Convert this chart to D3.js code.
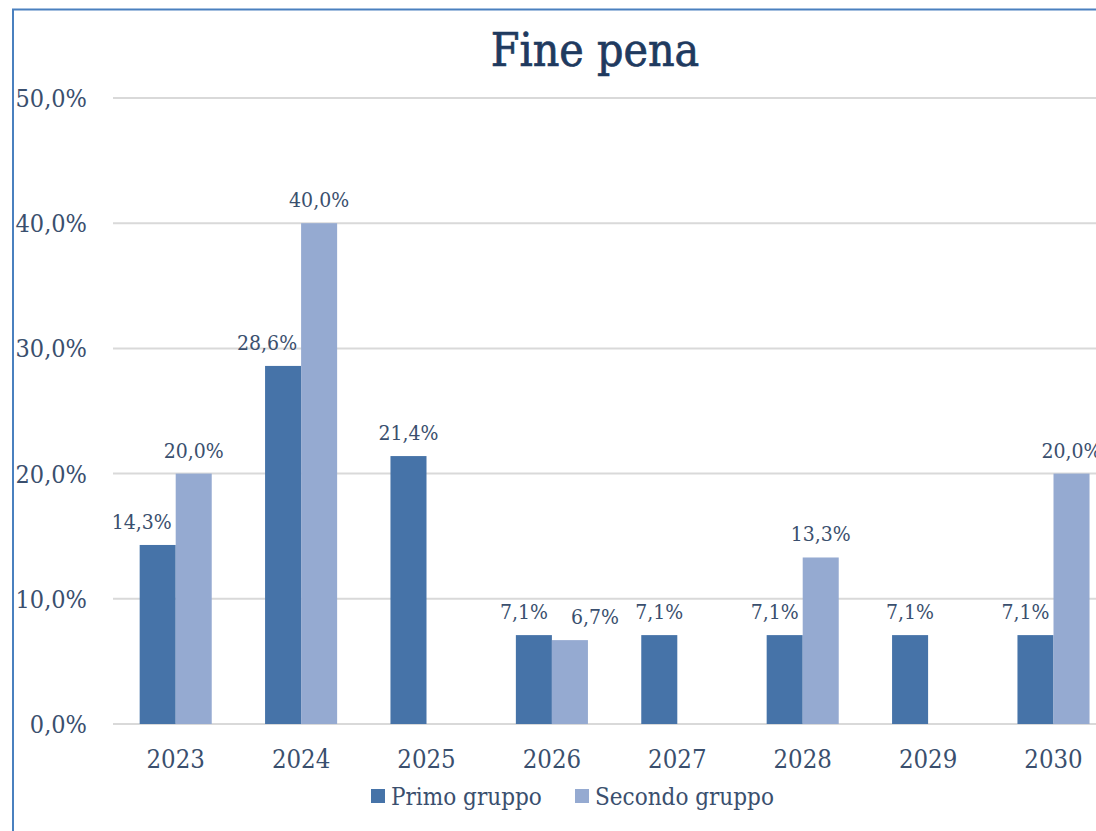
<!DOCTYPE html>
<html>
<head>
<meta charset="utf-8">
<script src="https://cdn.jsdelivr.net/npm/d3@7"></script>
<style>
  body { margin: 0; background: #fff; }
  svg { display: block; }
</style>
</head>
<body>
<script>
// data
var anni = ["2023", "2024", "2025", "2026", "2027", "2028", "2029", "2030"];
var primo = [14.3, 28.6, 21.4, 7.1, 7.1, 7.1, 7.1, 7.1];
var secondo = [20.0, 40.0, 0, 6.7, 0, 13.3, 0, 20.0];
var serie = ["Primo gruppo", "Secondo gruppo"];
var yTicks = [0, 10, 20, 30, 40, 50];

var colori = ["#4673a8", "#95aad1"];
var textCol = "#3a4f6e";
var font = "'DejaVu Serif Condensed', 'DejaVu Serif', serif";

var W = 1096, H = 831;
var plot = { left: 113, top: 98, bottom: 724, step: 125.4 };

var svg = d3.select("body").append("svg").attr("width", W).attr("height", H);

// chart border (cut at the right edge)
svg.append("path")
   .attr("d", "M13,831 L13,9.5 L1096,9.5")
   .attr("fill", "none").attr("stroke", "#4a80bf").attr("stroke-width", 2);

var x = d3.scaleBand().domain(anni)
          .range([plot.left, plot.left + plot.step * anni.length]).padding(0);
var xs = d3.scaleBand().domain(serie).range([0, x.bandwidth()])
           .paddingInner(0).paddingOuter(0.74);
var y = d3.scaleLinear().domain([0, 50]).range([plot.bottom, plot.top]);

// gridlines
svg.append("g").selectAll("line").data(yTicks).enter().append("line")
   .attr("x1", plot.left).attr("x2", W)
   .attr("y1", function(d){ return y(d); }).attr("y2", function(d){ return y(d); })
   .attr("stroke", "#d9d9d9").attr("stroke-width", 2);

// y labels
svg.append("g").selectAll("text").data(yTicks).enter().append("text")
   .attr("x", 87).attr("y", function(d){ return y(d) + 9; })
   .attr("text-anchor", "end")
   .attr("font-family", font).attr("font-size", 25).attr("fill", textCol)
   .text(function(d){ return d.toFixed(1).replace(".", ",") + "%"; });

// x labels
svg.append("g").selectAll("text").data(anni).enter().append("text")
   .attr("x", function(d){ return x(d) + x.bandwidth() / 2; })
   .attr("y", 768)
   .attr("text-anchor", "middle")
   .attr("font-family", font).attr("font-size", 25.5).attr("fill", textCol)
   .text(function(d){ return d; });

// bars
var righe = anni.map(function(a, i){ return { anno: a, v: [primo[i], secondo[i]] }; });
var gruppi = svg.append("g").selectAll("g").data(righe).enter().append("g")
   .attr("transform", function(d){ return "translate(" + x(d.anno) + ",0)"; });

gruppi.selectAll("rect").data(function(d){ return d.v.map(function(v, k){ return { s: serie[k], k: k, v: v }; }); })
   .enter().filter(function(d){ return d.v > 0; }).append("rect")
   .attr("x", function(d){ return xs(d.s); })
   .attr("width", xs.bandwidth())
   .attr("y", function(d){ return y(d.v); })
   .attr("height", function(d){ return y(0) - y(d.v); })
   .attr("fill", function(d){ return colori[d.k]; });

// data labels
gruppi.each(function(d){
  var g = d3.select(this);
  d.v.forEach(function(v, k){
    if (!(v > 0)) return;
    var cx = xs(serie[k]) + xs.bandwidth() / 2, anchor = "middle";
    if (k === 0 && d.v[1] > 0) { cx = xs(serie[0]) + xs.bandwidth() - 4; anchor = "end"; }
    if (k === 1 && Math.abs(d.v[1] - d.v[0]) < 2) { cx = xs(serie[1]) + 19; anchor = "start"; }
    g.append("text")
     .attr("x", cx).attr("y", y(v) - 16)
     .attr("text-anchor", anchor)
     .attr("font-family", font).attr("font-size", 21).attr("fill", textCol)
     .text(v.toFixed(1).replace(".", ",") + "%");
  });
});

// title
svg.append("text")
   .attr("x", 595).attr("y", 66)
   .attr("text-anchor", "middle")
   .attr("font-family", font).attr("font-size", 46).attr("fill", "#1f3a5f")
   .attr("stroke", "#1f3a5f").attr("stroke-width", 0.7)
   .text("Fine pena");

// legend
var leg = svg.append("g");
var legX = [371, 575];
serie.forEach(function(s, k){
  leg.append("rect").attr("x", legX[k]).attr("y", 789).attr("width", 14).attr("height", 14)
     .attr("fill", colori[k]);
  leg.append("text").attr("x", legX[k] + 20).attr("y", 805)
     .attr("font-family", font).attr("font-size", 24).attr("fill", textCol)
     .text(s);
});
</script>
</body>
</html>
